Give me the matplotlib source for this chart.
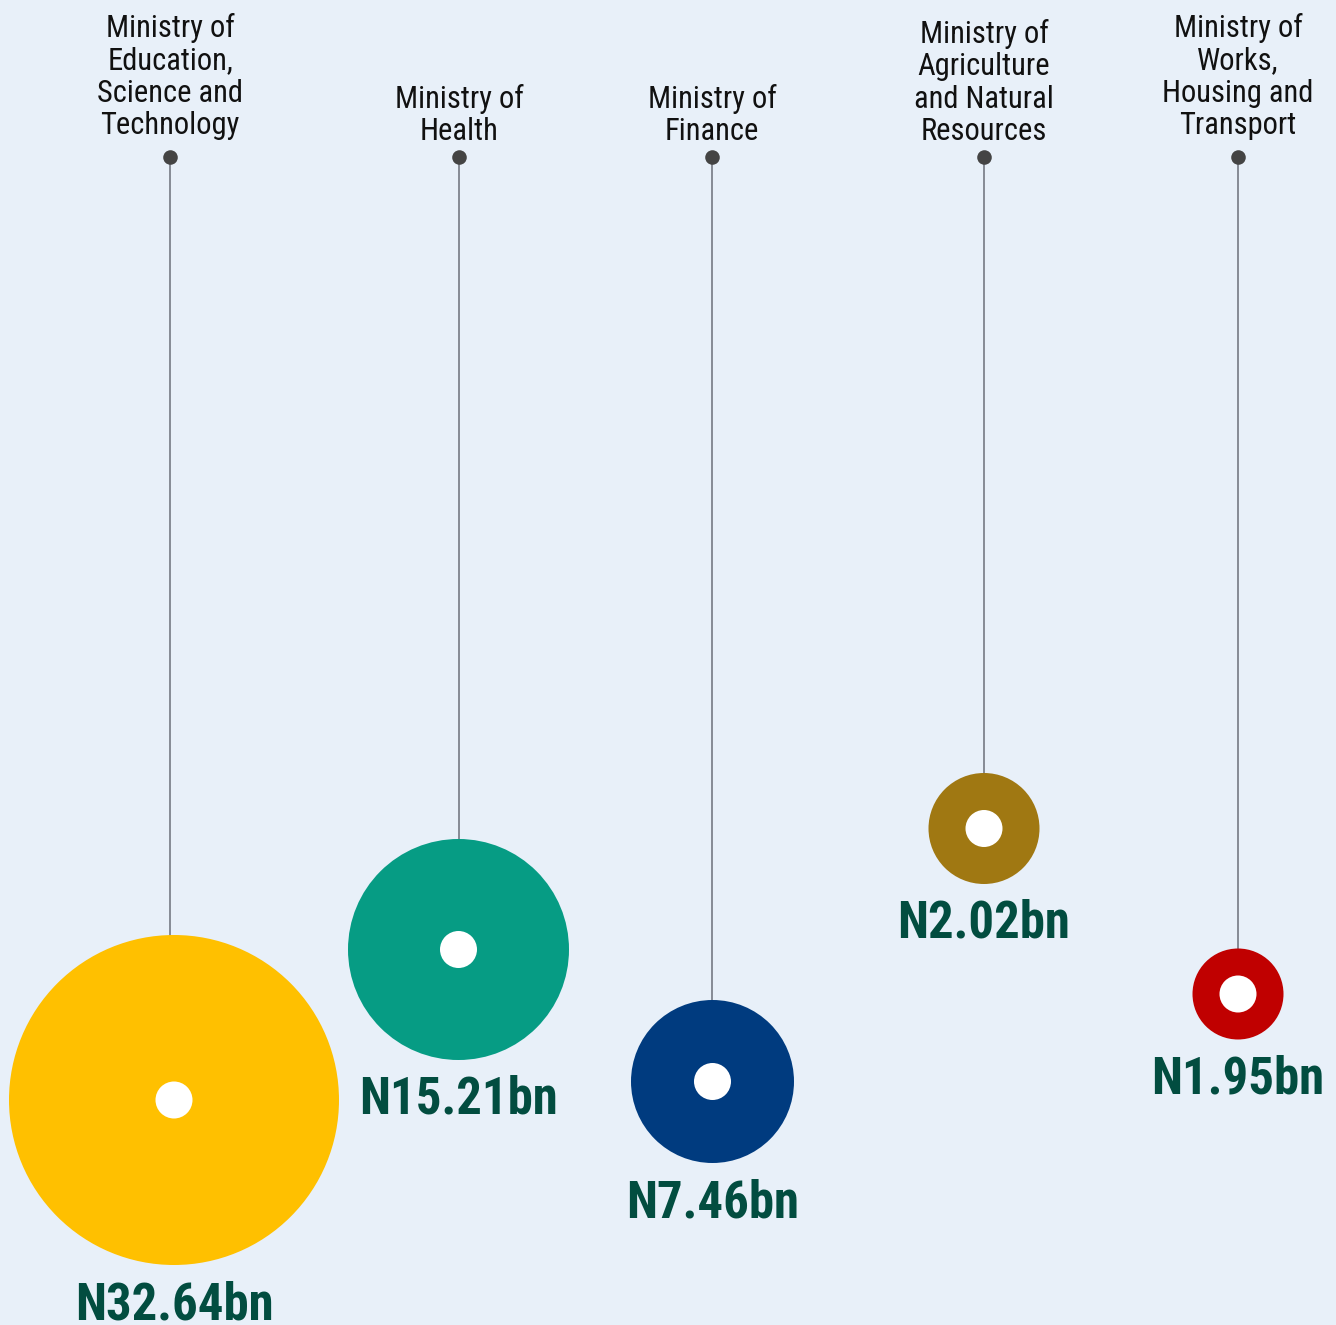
import matplotlib
matplotlib.use('Agg')
import matplotlib.pyplot as plt
from matplotlib import font_manager
from matplotlib.patches import Circle

ministries = ['Ministry of\nEducation,\nScience and\nTechnology',
              'Ministry of\nHealth',
              'Ministry of\nFinance',
              'Ministry of\nAgriculture\nand Natural\nResources',
              'Ministry of\nWorks,\nHousing and\nTransport']
values_bn = [32.64, 15.21, 7.46, 2.02, 1.95]
colors = ['#ffc000', '#069c84', '#003b7f', '#a07812', '#c00000']

# layout (pixels, figure is 1336x1325)
stem_x = [170, 459, 712, 984, 1238]
bubble_x = [174, 458.5, 712.5, 984, 1238]
bubble_y = [1100, 949.5, 1081.5, 828.5, 994]
bubble_r = [165, 110.5, 81.5, 55.5, 45.5]
hole_r = 18.5
dot_y = 157

names = {f.name for f in font_manager.fontManager.ttflist}
font = 'Roboto'
for cand in ['Roboto Condensed', 'Roboto']:
    if cand in names:
        font = cand
        break
plt.rcParams['font.family'] = [font, 'DejaVu Sans']

bg = '#e8f0f9'
fig = plt.figure(figsize=(13.36, 13.25), dpi=100, facecolor=bg)
ax = fig.add_axes([0, 0, 1, 1])
ax.set_facecolor(bg)
ax.set_xlim(0, 1336)
ax.set_ylim(1325, 0)
ax.set_aspect('equal')
ax.axis('off')

for i, name in enumerate(ministries):
    top = bubble_y[i] - bubble_r[i]
    ax.plot([stem_x[i], stem_x[i]], [dot_y, top], color='#868b95', lw=1.4, zorder=1)
    ax.scatter([stem_x[i]], [dot_y], s=110, color='#444444', zorder=3, linewidths=0)
    ax.add_patch(Circle((bubble_x[i], bubble_y[i]), bubble_r[i], color=colors[i], lw=0, zorder=2))
    ax.add_patch(Circle((bubble_x[i], bubble_y[i]), hole_r, color='white', lw=0, zorder=3))
    # labels sit on their bounding box, so lines with descenders ride a bit higher
    last = name.split('\n')[-1]
    base = 134 if any(c in last for c in 'gjpqy') else 140
    ax.text(stem_x[i], base, name, ha='center', va='baseline', fontsize=22,
            color='#111111', linespacing=1.145, multialignment='center')
    ax.text(bubble_x[i], bubble_y[i] + bubble_r[i] + 54, f'N{values_bn[i]:.2f}bn',
            ha='center', va='baseline', fontsize=36.5, fontweight='bold', color='#024d40')

fig.savefig('out.png', dpi=100, facecolor=bg)
